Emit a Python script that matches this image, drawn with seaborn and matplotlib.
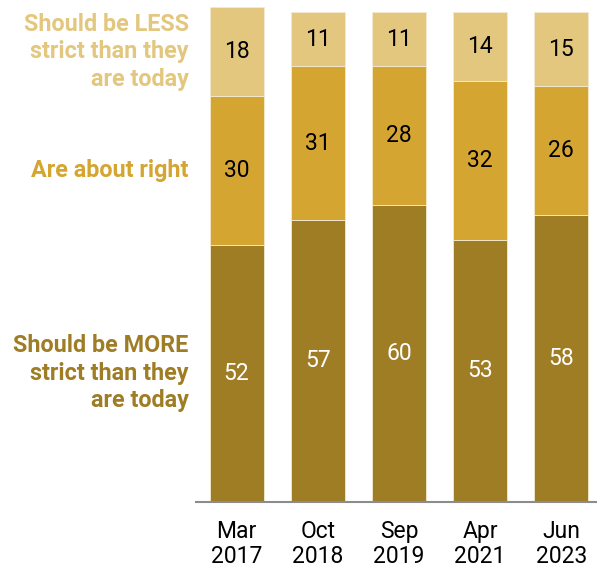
import matplotlib
matplotlib.use("Agg")
import matplotlib.pyplot as plt
import seaborn as sns
import pandas as pd
import numpy as np

# Survey waves and shares (%) for each response
waves = ["Mar\n2017", "Oct\n2018", "Sep\n2019", "Apr\n2021", "Jun\n2023"]
more_strict = [52, 57, 60, 53, 58]
about_right = [30, 31, 28, 32, 26]
less_strict = [18, 11, 11, 14, 15]

series_labels = [
    "Should be MORE\nstrict than they\nare today",
    "Are about right",
    "Should be LESS\nstrict than they\nare today",
]
colors = ["#9E7D25", "#D4A531", "#E3C77F"]
text_colors = ["white", "black", "black"]

sns.set_theme(style="white")
plt.rcParams["font.family"] = ["Roboto", "DejaVu Sans"]

df = pd.DataFrame({
    "wave": waves,
    "more": more_strict,
    "right": about_right,
    "less": less_strict,
})

fig = plt.figure(figsize=(5.97, 5.69), dpi=100)
ax = fig.add_axes([196 / 597, 67 / 569, 401 / 597, 495 / 569])

series = [df["more"].to_numpy(), df["right"].to_numpy(), df["less"].to_numpy()]
bottom = np.zeros(len(waves))
for vals, col, tcol in zip(series, colors, text_colors):
    sns.barplot(data=df.assign(v=vals), x="wave", y="v", color=col,
                bottom=bottom, width=0.667, ax=ax, saturation=1,
                edgecolor="#f3ead0", linewidth=0.6)
    for i, v in enumerate(vals):
        ax.text(i, bottom[i] + v / 2, str(v), ha="center", va="center",
                fontsize=16.5, color=tcol)
    bottom = bottom + vals

ax.set_xlim(-0.5, 4.44)
ax.set_ylim(0, 100)
ax.set_xlabel("")
ax.set_ylabel("")
ax.set_yticks([])
for s in ["top", "right", "left"]:
    ax.spines[s].set_visible(False)
ax.spines["bottom"].set_color("#8c8c8c")
ax.spines["bottom"].set_linewidth(1.5)
ax.tick_params(axis="x", length=0, pad=13, labelsize=16.5, colors="black")
for lbl in ax.get_xticklabels():
    lbl.set_linespacing(1.1)

# Series labels to the left of the first bar, centred on its segments
first = [more_strict[0], about_right[0], less_strict[0]]
mids = np.cumsum(first) - np.array(first) / 2
for lab, col, m in zip(series_labels, colors, mids):
    ax.text(-0.59, m, lab, ha="right", va="center", fontsize=16.8,
            fontweight="bold", color=col, linespacing=1.25)

fig.savefig("out.png", dpi=100)
